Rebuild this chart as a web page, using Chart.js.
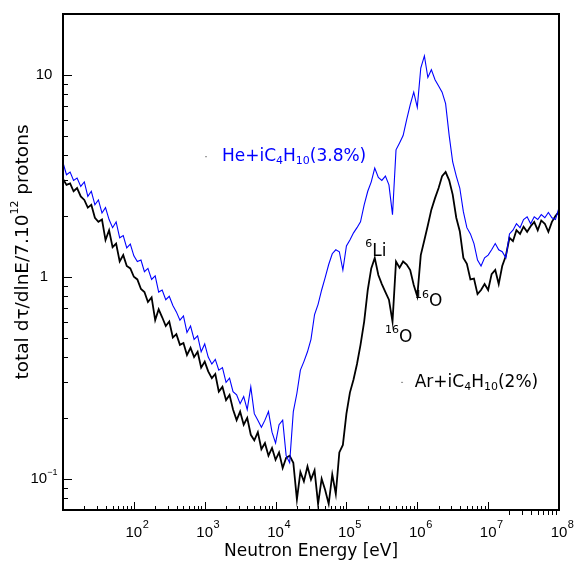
<!DOCTYPE html>
<html>
<head>
<meta charset="utf-8">
<script src="https://cdn.jsdelivr.net/npm/chart.js@4.4.0/dist/chart.umd.min.js"></script>
<style>
  html, body { margin: 0; padding: 0; background: #fff; }
</style>
</head>
<body>
<canvas id="myChart" width="577" height="566"></canvas>
<script>
// neutron energy bins (eV), 20 per decade
const energy = [
  1.00e1, 1.12e1, 1.26e1, 1.41e1, 1.58e1, 1.78e1, 2.00e1, 2.24e1, 2.51e1, 2.82e1,
  3.16e1, 3.55e1, 3.98e1, 4.47e1, 5.01e1, 5.62e1, 6.31e1, 7.08e1, 7.94e1, 8.91e1,
  1.00e2, 1.12e2, 1.26e2, 1.41e2, 1.58e2, 1.78e2, 2.00e2, 2.24e2, 2.51e2, 2.82e2,
  3.16e2, 3.55e2, 3.98e2, 4.47e2, 5.01e2, 5.62e2, 6.31e2, 7.08e2, 7.94e2, 8.91e2,
  1.00e3, 1.12e3, 1.26e3, 1.41e3, 1.58e3, 1.78e3, 2.00e3, 2.24e3, 2.51e3, 2.82e3,
  3.16e3, 3.55e3, 3.98e3, 4.47e3, 5.01e3, 5.62e3, 6.31e3, 7.08e3, 7.94e3, 8.91e3,
  1.00e4, 1.12e4, 1.26e4, 1.41e4, 1.58e4, 1.78e4, 2.00e4, 2.24e4, 2.51e4, 2.82e4,
  3.16e4, 3.55e4, 3.98e4, 4.47e4, 5.01e4, 5.62e4, 6.31e4, 7.08e4, 7.94e4, 8.91e4,
  1.00e5, 1.12e5, 1.26e5, 1.41e5, 1.58e5, 1.78e5, 2.00e5, 2.24e5, 2.51e5, 2.82e5,
  3.16e5, 3.55e5, 3.98e5, 4.47e5, 5.01e5, 5.62e5, 6.31e5, 7.08e5, 7.94e5, 8.91e5,
  1.00e6, 1.12e6, 1.26e6, 1.41e6, 1.58e6, 1.78e6, 2.00e6, 2.24e6, 2.51e6, 2.82e6,
  3.16e6, 3.55e6, 3.98e6, 4.47e6, 5.01e6, 5.62e6, 6.31e6, 7.08e6, 7.94e6, 8.91e6,
  1.00e7, 1.12e7, 1.26e7, 1.41e7, 1.58e7, 1.78e7, 2.00e7, 2.24e7, 2.51e7, 2.82e7,
  3.16e7, 3.55e7, 3.98e7, 4.47e7, 5.01e7, 5.62e7, 6.31e7, 7.08e7, 7.94e7, 8.91e7,
  1.00e8
];

// He + iC4H10 (3.8%)
const heFlux = [
  3.67, 3.2, 3.3, 3.0, 3.08, 2.8, 2.95, 2.5, 2.65, 2.27,
  2.4, 2.07, 2.2, 1.92, 1.75, 1.87, 1.56, 1.6, 1.39, 1.45,
  1.27, 1.19, 1.21, 1.06, 1.1, 0.97, 1.01, 0.84, 0.86, 0.77,
  0.8, 0.72, 0.67, 0.61, 0.64, 0.53, 0.57, 0.49, 0.51, 0.425,
  0.465, 0.4, 0.37, 0.39, 0.345, 0.355, 0.3, 0.315, 0.27, 0.26,
  0.235, 0.255, 0.22, 0.285, 0.21, 0.195, 0.18, 0.195, 0.215, 0.17,
  0.15, 0.185, 0.195, 0.13, 0.12, 0.215, 0.265, 0.345, 0.38, 0.425,
  0.49, 0.65, 0.73, 0.86, 0.99, 1.15, 1.3, 1.36, 1.33, 1.08,
  1.42, 1.52, 1.65, 1.75, 1.87, 2.27, 2.65, 2.95, 3.45, 3.1,
  3.0, 3.15, 2.85, 2.03, 4.25, 4.6, 5.0, 6.0, 7.1, 8.2,
  6.9, 10.8, 12.4, 9.7, 10.6, 9.45, 8.8, 8.2, 7.2, 5.0,
  3.7, 3.15, 2.75, 2.1, 1.75, 1.63, 1.46, 1.21, 1.13, 1.24,
  1.28, 1.36, 1.46, 1.36, 1.33, 1.24, 1.63, 1.7, 1.83, 1.75,
  1.92, 1.98, 1.83, 1.98, 1.92, 2.03, 1.96, 2.08, 1.96, 1.92,
  2.2
];

// Ar + iC4H10 (2%)
const arFlux = [
  3.05, 2.85, 2.9, 2.65, 2.75, 2.5, 2.4, 2.2, 2.27, 1.96,
  1.87, 1.92, 1.52, 1.7, 1.4, 1.46, 1.19, 1.28, 1.13, 1.1,
  1.0, 0.97, 0.87, 0.84, 0.75, 0.79, 0.61, 0.69, 0.63, 0.57,
  0.6, 0.5, 0.52, 0.46, 0.47, 0.41, 0.445, 0.4, 0.425, 0.355,
  0.38, 0.34, 0.315, 0.33, 0.27, 0.285, 0.245, 0.26, 0.22, 0.195,
  0.215, 0.185, 0.2, 0.165, 0.155, 0.17, 0.14, 0.15, 0.13, 0.142,
  0.124, 0.135, 0.113, 0.127, 0.13, 0.12, 0.079, 0.108, 0.097, 0.115,
  0.099, 0.11, 0.075, 0.1, 0.088, 0.075, 0.105, 0.084, 0.135, 0.147,
  0.21, 0.267, 0.31, 0.37, 0.46, 0.6, 0.86, 1.1, 1.24, 1.02,
  0.92, 0.84, 0.77, 0.6, 1.19, 1.11, 1.19, 1.15, 1.08, 0.91,
  0.8, 1.28, 1.52, 1.8, 2.15, 2.45, 2.75, 3.15, 3.3, 3.0,
  2.55, 1.96, 1.68, 1.24, 1.16, 0.97, 0.98, 0.82, 0.86, 0.92,
  0.86, 1.03, 1.08, 0.92, 1.13, 1.27, 1.56, 1.5, 1.7, 1.63,
  1.77, 1.67, 1.78, 1.87, 1.7, 1.9, 1.83, 1.67, 1.87, 2.0,
  2.1
];

// tick labels
const xTickValues = [1e2, 1e3, 1e4, 1e5, 1e6, 1e7, 1e8];
const xTickExps = ['2', '3', '4', '5', '6', '7', '8'];
const yTickValues = [0.1, 1, 10];
const yTickBases = ['10', '1', '10'];
const yTickExps = ['\u22121', '', ''];

// text labels placed at data coordinates
const notes = [
  { x: 1.75e3, y: 3.93, color: '#0000ff', parts: [['He+iC', 'n'], ['4', 'sub'], ['H', 'n'], ['10', 'sub'], ['(3.8%)', 'n']] },
  { x: 9.2e5, y: 0.30, color: '#000', parts: [['Ar+iC', 'n'], ['4', 'sub'], ['H', 'n'], ['10', 'sub'], ['(2%)', 'n']] },
  { x: 1.85e5, y: 1.33, color: '#000', parts: [['6', 'sup'], ['Li', 'n']] },
  { x: 3.5e5, y: 0.50, color: '#000', parts: [['16', 'sup'], ['O', 'n']] },
  { x: 9.3e5, y: 0.75, color: '#000', parts: [['16', 'sup'], ['O', 'n']] }
];

const FONT = '"DejaVu Sans", sans-serif';
const TICKFONT = '"Liberation Sans", Arial, sans-serif';

function drawRich(ctx, parts, x, y, size, family, align) {
  const fontOf = (k) => (k === 'n' ? size : Math.round(size * 0.62)) + 'px ' + family;
  const widths = parts.map(([t, k]) => { ctx.font = fontOf(k); return ctx.measureText(t).width; });
  const total = widths.reduce((a, b) => a + b, 0);
  let cx = align === 'center' ? x - total / 2 : x;
  ctx.textAlign = 'left';
  ctx.textBaseline = 'middle';
  parts.forEach(([t, k], i) => {
    ctx.font = fontOf(k);
    const dy = k === 'sup' ? -size * 0.42 : k === 'sub' ? size * 0.28 : 0;
    ctx.fillText(t, cx, y + dy);
    cx += widths[i];
  });
}

const pawAxes = {
  id: 'pawAxes',
  afterDraw(chart) {
    const { ctx, chartArea: a, scales: { x, y } } = chart;
    ctx.save();
    ctx.strokeStyle = '#000';
    ctx.fillStyle = '#000';

    // bottom ticks (inside), last decade hangs below the axis
    ctx.lineWidth = 1;
    ctx.beginPath();
    for (let d = 1; d <= 7; d++) {
      for (let m = 1; m <= 9; m++) {
        const v = m * Math.pow(10, d);
        const px = Math.round(x.getPixelForValue(v)) + 0.5;
        if (m === 1) {
          if (d === 1) continue;
          ctx.moveTo(px, a.bottom); ctx.lineTo(px, a.bottom - 8);
        } else if (d === 7) {
          ctx.moveTo(px, a.bottom); ctx.lineTo(px, a.bottom + 5);
        } else {
          ctx.moveTo(px, a.bottom); ctx.lineTo(px, a.bottom - 4);
        }
      }
    }
    // left ticks
    for (let d = -2; d <= 1; d++) {
      for (let m = 1; m <= 9; m++) {
        const v = m * Math.pow(10, d);
        if (v <= y.min * 1.001 || v >= y.max * 0.999) continue;
        const py = Math.round(y.getPixelForValue(v)) + 0.5;
        ctx.moveTo(a.left, py); ctx.lineTo(a.left + (m === 1 ? 9 : 5), py);
      }
    }
    ctx.stroke();

    // frame
    ctx.lineWidth = 2;
    ctx.strokeRect(a.left, a.top, a.right - a.left, a.bottom - a.top);

    // x tick labels
    xTickValues.forEach((v, i) => {
      const px = x.getPixelForValue(v);
      ctx.font = '15px ' + TICKFONT;
      const bw = ctx.measureText('10').width;
      ctx.textAlign = 'center';
      ctx.textBaseline = 'middle';
      ctx.fillText('10', px, a.bottom + 23);
      ctx.font = '11px ' + TICKFONT;
      ctx.textAlign = 'left';
      ctx.fillText(xTickExps[i], px + bw / 2 + 0.5, a.bottom + 15);
    });

    // y tick labels
    yTickValues.forEach((v, i) => {
      const py = y.getPixelForValue(v);
      const parts = [[yTickBases[i], 'n']];
      if (yTickExps[i]) parts.push([yTickExps[i], 'sup']);
      drawRich(ctx, parts, 44, py, 15, TICKFONT, 'center');
    });

    // axis titles
    drawRich(ctx, [['Neutron Energy [eV]', 'n']], (a.left + a.right) / 2, 552, 17, FONT, 'center');
    ctx.save();
    ctx.translate(23, 252);
    ctx.rotate(-Math.PI / 2);
    drawRich(ctx, [['total d\u03c4/dlnE/7.10', 'n'], ['12', 'sup'], [' protons', 'n']], 0, 0, 18.5, FONT, 'center');
    ctx.restore();

    // annotations
    notes.forEach((n) => {
      ctx.fillStyle = n.color;
      drawRich(ctx, n.parts, x.getPixelForValue(n.x), y.getPixelForValue(n.y), 17, FONT, 'left');
    });
    // small marker dots in front of the two gas labels
    ctx.fillStyle = '#888';
    ctx.fillRect(x.getPixelForValue(1.01e3), y.getPixelForValue(3.93) - 0.5, 2, 1);
    ctx.fillRect(x.getPixelForValue(5.9e5), y.getPixelForValue(0.30) - 0.5, 2, 1);
    ctx.restore();
  }
};

const ctx = document.getElementById('myChart').getContext('2d');
const myChart = new Chart(ctx, {
  type: 'line',
  data: {
    datasets: [
      {
        label: 'He+iC4H10(3.8%)',
        data: energy.map((e, i) => ({ x: e, y: heFlux[i] })),
        borderColor: '#0000ff',
        borderWidth: 1.1,
        pointRadius: 0,
        tension: 0,
      },
      {
        label: 'Ar+iC4H10(2%)',
        data: energy.map((e, i) => ({ x: e, y: arFlux[i] })),
        borderColor: '#000000',
        borderWidth: 1.8,
        pointRadius: 0,
        tension: 0,
      },
    ],
  },
  options: {
    responsive: false,
    animation: false,
    layout: { padding: { left: 63, top: 14, right: 18, bottom: 56 } },
    plugins: { legend: { display: false }, tooltip: { enabled: false } },
    scales: {
      x: { type: 'logarithmic', min: 10, max: 1e8, display: false },
      y: { type: 'logarithmic', min: 0.07, max: 20, display: false },
    },
  },
  plugins: [pawAxes],
});
</script>
</body>
</html>
